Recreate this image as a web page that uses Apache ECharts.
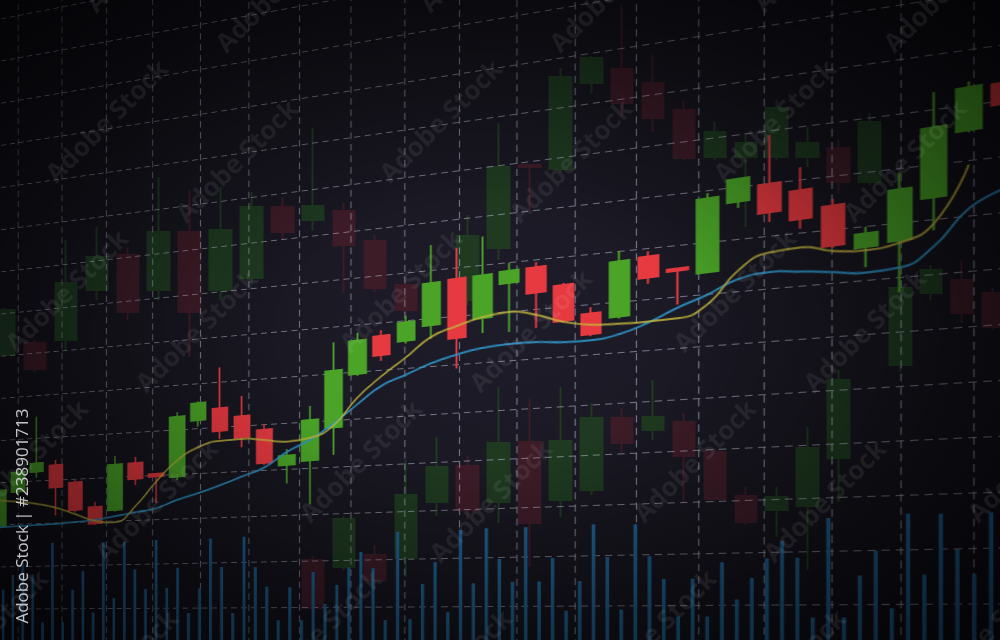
<!DOCTYPE html>
<html>
<head>
<meta charset="utf-8">
<script src="https://cdn.jsdelivr.net/npm/echarts/dist/echarts.min.js"></script>
<style>
html,body{margin:0;padding:0;width:1000px;height:640px;overflow:hidden;background:#16151f;}
#stage{position:relative;width:1000px;height:640px;overflow:hidden;
  background:radial-gradient(ellipse 70% 75% at 50% 50%, #1d1c29 0%, #17161f 55%, #0d0c14 100%);}
.layer{position:absolute;}
#ghost{left:-40px;top:0;width:1080px;height:640px;}
#gridLayer{left:-138.15px;top:-129px;width:1191px;height:784px;
  transform-origin:638.15px 754px;transform:perspective(1000px) rotateY(-15.642deg);}
#fgLayer{left:-160px;top:-140px;width:1140px;height:815px;
  transform-origin:660px 815px;transform:perspective(1000px) rotateY(-18.263deg);}
#vignette{left:0;top:0;width:1000px;height:640px;pointer-events:none;
  background:radial-gradient(ellipse farthest-corner at 48% 52%, rgba(0,0,0,0) 0%, rgba(0,0,0,0) 28%, rgba(0,0,0,0.42) 64%, rgba(0,0,0,0.7) 100%);}
#marks{left:0;top:0;width:1000px;height:640px;}
</style>
</head>
<body>
<div id="stage">
  <div id="ghost" class="layer"></div>
  <div id="gridLayer" class="layer"></div>
  <div id="fgLayer" class="layer"></div>
  <div id="vignette" class="layer"></div>
  <div id="marks" class="layer"></div>
</div>
<script>
// ---------- DATA ----------
// foreground candles: [open, close, low, high]
const fgCandles = [
  [177,221,173,224],[218,241,213,246],[240,250,233,305],[246,220,187,252],[224,192,189,227],
  [194,175,173,200],[189,241,187,251],[241,223,216,248],[227,224,194,227],[222,289,218,294],
  [283,302,276,304],[294,269,260,339],[283,260,249,305],[266,230,228,272],[226,236,206,243],
  [229,272,182,287],[262,322,233,352],[316,351,314,359],[353,333,327,359],[345,364,342,371],
  [358,401,344,440],[402,342,311,433],[359,402,344,441],[391,403,342,411],[403,378,343,408],
  [382,347,345,384],[351,331,329,357],[345,398,343,408],[399,379,373,404],[384,382,350,384],
  [377,446,376,451],[439,460,433,461],[451,425,416,496],[441,415,406,462],[423,387,385,429],
  [382,394,364,400],[384,429,338,444],[418,479,389,510],[472,509,470,514],[508,490,488,510]
];
const maFast = [209,206,202,196,187,178,175,192,218,240,253,258,258,255,251,253,264,291,311,328,
  346,354,360,362,356,346,340,338,337,337,347,375,388,389,382,379,382,395,442,'-'];
const maSlow = [177,177,177,177,178,179,182,185,188,196,202,209,217,225,240,251,266,284,301,310,
  319,325,329,330,329,326,325,328,336,347,356,367,370,367,363,359,360,375,404,417];
const volume = [71,88,102,88,33,124,33,70,91,44,123,60,123,92,70,124,71,93,43,70,
  124,93,43,125,92,71,35,70,35,86,52,72,90,106,89,35,126,36,72,94,
  43,126,72,127,96,73,127,73,96,44,73,128,96,45,127,96,74,38,74,38,
  89,54,74,92,108,92,37,128,37,75,97,45,130,75,129,97,75,129];
const E = ['-','-','-','-'];
const ghostUpper = [
  [285,330,283,332],[297,271,268,300],[300,357,290,400],[350,383,340,413],[385,328,320,393],
  [350,408,340,463],[408,328,283,450],[350,410,340,453],[362,433,355,448],[433,408,400,443],
  [420,434,410,512],[429,395,347,437],[399,352,348,405],[355,330,325,360],E,
  [340,404,335,425],[392,473,380,517],[475,473,430,475],[471,563,468,572],[557,582,547,584],
  [571,537,523,635],[557,522,508,585],[530,482,480,540],[483,508,480,518],[483,497,413,507],
  [483,532,480,540],[483,497,473,513],[492,458,447,500],[458,518,455,527],E,E,E,E
];
const ghostLower = [
  E,E,E,E,E,E,E,E,E,E,
  [80,32,28,84],[73,121,70,124],[85,60,52,95],[82,145,63,180],[138,173,124,203],
  [174,130,121,184],[138,197,117,253],[198,117,73,241],[140,199,123,253],[150,222,145,237],
  [222,197,187,232],[210,223,200,260],[218,184,137,227],[188,141,137,192],[144,118,115,153],
  [130,143,103,153],[134,192,70,213],[182,260,138,270],E,[275,352,268,360],
  [347,370,340,375],[360,327,317,380],[347,313,310,352]
];
const fgDays = fgCandles.map((_, i) => 'D' + (i + 1));
const ghostDays = ghostUpper.map((_, i) => 'G' + (i + 1));
const volDays = volume.map((_, i) => 'V' + (i + 1));
const labelText = 'Adobe Stock | #238901713';
const watermarkText = 'Adobe Stock';

// ---------- CHARTS ----------
const hiddenAxis = {axisLine:{show:false}, axisTick:{show:false}, axisLabel:{show:false}};

// ghost (background) candles, flat
const ghost = echarts.init(document.getElementById('ghost'));
const ghostStyle = {color:'#1f3a21', color0:'#3d1c28', borderColor:'#1f3a21', borderColor0:'#3d1c28', borderWidth:2};
ghost.setOption({
  animation:false,
  grid:{left:28.75, top:0, width:1019.7, height:640},
  xAxis:{type:'category', data:ghostDays, show:false},
  yAxis:{type:'value', min:0, max:640, show:false, splitLine:{show:false}},
  series:[
    {type:'candlestick', data:ghostUpper, barWidth:22, itemStyle:ghostStyle},
    {type:'candlestick', data:ghostLower, barWidth:22, itemStyle:ghostStyle}
  ]
});

// grid + volume layer (in perspective)
const gridC = echarts.init(document.getElementById('gridLayer'));
const dash = {show:true, lineStyle:{color:'rgba(205,205,230,0.5)', width:1.2, type:[7,5]}};
gridC.setOption({
  animation:false,
  grid:[{left:0, top:0, width:1191, height:784}, {left:31.85, top:0, width:1061.3, height:784}],
  xAxis:[
    Object.assign({type:'value', gridIndex:0, min:0, max:1191, interval:59.55, splitLine:dash}, hiddenAxis),
    {type:'category', gridIndex:1, data:volDays, show:false}
  ],
  yAxis:[
    Object.assign({type:'value', gridIndex:0, min:0, max:784, interval:49, splitLine:dash}, hiddenAxis),
    {type:'value', gridIndex:1, min:0, max:784, show:false, splitLine:{show:false}}
  ],
  series:[
    {type:'bar', xAxisIndex:1, yAxisIndex:1, data:volume, barWidth:3.5, itemStyle:{color:'#1f6192'}}
  ]
});

// foreground candles + moving averages (in perspective)
const fg = echarts.init(document.getElementById('fgLayer'));
fg.setOption({
  animation:false,
  grid:{left:14.565, top:0, width:1114.8, height:815},
  xAxis:{type:'category', data:fgDays, show:false},
  yAxis:{type:'value', min:0, max:815, show:false, splitLine:{show:false}},
  series:[
    {type:'candlestick', data:fgCandles, barWidth:20,
     itemStyle:{color:'#4ba428', color0:'#e63a40', borderColor:'#4ba428', borderColor0:'#e63a40', borderWidth:2}},
    {type:'line', data:maSlow, smooth:0.5, symbol:'none', lineStyle:{color:'#2f93c8', width:2, opacity:0.9}},
    {type:'line', data:maFast, smooth:0.5, symbol:'none', lineStyle:{color:'#c4b63c', width:2, opacity:0.8}}
  ]
});

// overlay texts
const marks = echarts.init(document.getElementById('marks'));
const texts = [];
for (let r = -1; r <= 4; r++) {
  for (let k = -1; k <= 3; k++) {
    [[108, 122], [238, 162]].forEach(function (b) {
      texts.push({type:'text', x:b[0] + 334 * k - 40 * r, y:b[1] + 170 * r, rotation:Math.PI / 4,
        style:{text:watermarkText, fill:'rgba(255,255,255,0.07)', font:'bold 26px "Open Sans"', align:'center', verticalAlign:'middle'}});
    });
  }
}
texts.push({type:'text', x:23, y:516, rotation:Math.PI / 2,
  style:{text:labelText, fill:'rgba(228,228,232,0.85)', font:'17px "Open Sans"', align:'center', verticalAlign:'middle'}});
marks.setOption({animation:false, graphic:texts});
</script>
</body>
</html>
